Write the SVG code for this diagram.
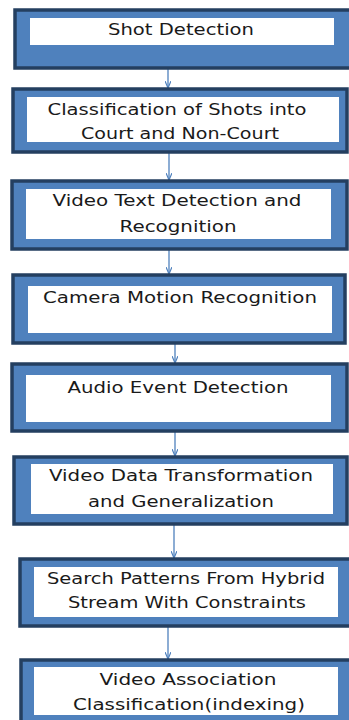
<svg xmlns="http://www.w3.org/2000/svg" width="349" height="720" viewBox="0 0 349 720">
<defs>
<style>
.outer{fill:#4f81bd;stroke:#243f60;stroke-width:3.5}
.inner{fill:#ffffff}
.t{font-family:"DejaVu Sans",Verdana,sans-serif;font-size:15px;fill:#1a1a1a;text-anchor:middle}
.c{stroke:#4f81bd;stroke-width:1.3;fill:none}
</style>
<marker id="ah" markerWidth="8" markerHeight="6" refX="7" refY="3" orient="auto" markerUnits="userSpaceOnUse">
<path d="M0,0 L7,3 L0,6" fill="none" stroke="#4f81bd" stroke-width="1.2"/>
</marker>
</defs>
<rect width="349" height="720" fill="#ffffff"/>
<g id="connectors">
<line class="c" x1="168" y1="68" x2="168" y2="88" marker-end="url(#ah)"/>
<line class="c" x1="169" y1="152" x2="169" y2="180" marker-end="url(#ah)"/>
<line class="c" x1="169" y1="249" x2="169" y2="274" marker-end="url(#ah)"/>
<line class="c" x1="175" y1="343" x2="175" y2="363" marker-end="url(#ah)"/>
<line class="c" x1="175" y1="431" x2="175" y2="456" marker-end="url(#ah)"/>
<line class="c" x1="174" y1="524" x2="174" y2="558" marker-end="url(#ah)"/>
<line class="c" x1="168" y1="626" x2="168" y2="659" marker-end="url(#ah)"/>
</g>
<g id="n1">
<rect class="outer" x="15" y="10" width="336" height="58"/>
<rect class="inner" x="30" y="18" width="304" height="27"/>
<text class="t" x="181" y="35" textLength="146" lengthAdjust="spacingAndGlyphs">Shot Detection</text>
</g>
<g id="n2">
<rect class="outer" x="13" y="89" width="334" height="63"/>
<rect class="inner" x="27" y="97" width="312" height="45"/>
<text class="t" x="177" y="115" textLength="259" lengthAdjust="spacingAndGlyphs">Classification of Shots into</text>
<text class="t" x="180" y="139" textLength="198" lengthAdjust="spacingAndGlyphs">Court and Non-Court</text>
</g>
<g id="n3">
<rect class="outer" x="12" y="181" width="335" height="68"/>
<rect class="inner" x="26" y="189" width="305" height="50"/>
<text class="t" x="177" y="206" textLength="249" lengthAdjust="spacingAndGlyphs">Video Text Detection and</text>
<text class="t" x="178" y="232" textLength="117" lengthAdjust="spacingAndGlyphs">Recognition</text>
</g>
<g id="n4">
<rect class="outer" x="13" y="275" width="332" height="68"/>
<rect class="inner" x="28" y="286" width="304" height="47"/>
<text class="t" x="180" y="303" textLength="274" lengthAdjust="spacingAndGlyphs">Camera Motion Recognition</text>
</g>
<g id="n5">
<rect class="outer" x="12" y="364" width="335" height="67"/>
<rect class="inner" x="26" y="375" width="305" height="47"/>
<text class="t" x="178" y="393" textLength="221" lengthAdjust="spacingAndGlyphs">Audio Event Detection</text>
</g>
<g id="n6">
<rect class="outer" x="14" y="457" width="333" height="67"/>
<rect class="inner" x="31" y="464" width="302" height="50"/>
<text class="t" x="181" y="481" textLength="264" lengthAdjust="spacingAndGlyphs">Video Data Transformation</text>
<text class="t" x="181" y="507" textLength="186" lengthAdjust="spacingAndGlyphs">and Generalization</text>
</g>
<g id="n7">
<rect class="outer" x="20" y="559" width="332" height="67"/>
<rect class="inner" x="34" y="567" width="304" height="50"/>
<text class="t" x="186" y="584" textLength="278" lengthAdjust="spacingAndGlyphs">Search Patterns From Hybrid</text>
<text class="t" x="187" y="608" textLength="238" lengthAdjust="spacingAndGlyphs">Stream With Constraints</text>
</g>
<g id="n8">
<rect class="outer" x="21" y="660" width="332" height="70"/>
<rect class="inner" x="34" y="667" width="304" height="48"/>
<text class="t" x="188" y="685" textLength="177" lengthAdjust="spacingAndGlyphs">Video Association</text>
<text class="t" x="189" y="710" textLength="232" lengthAdjust="spacingAndGlyphs">Classification(indexing)</text>
</g>
</svg>
